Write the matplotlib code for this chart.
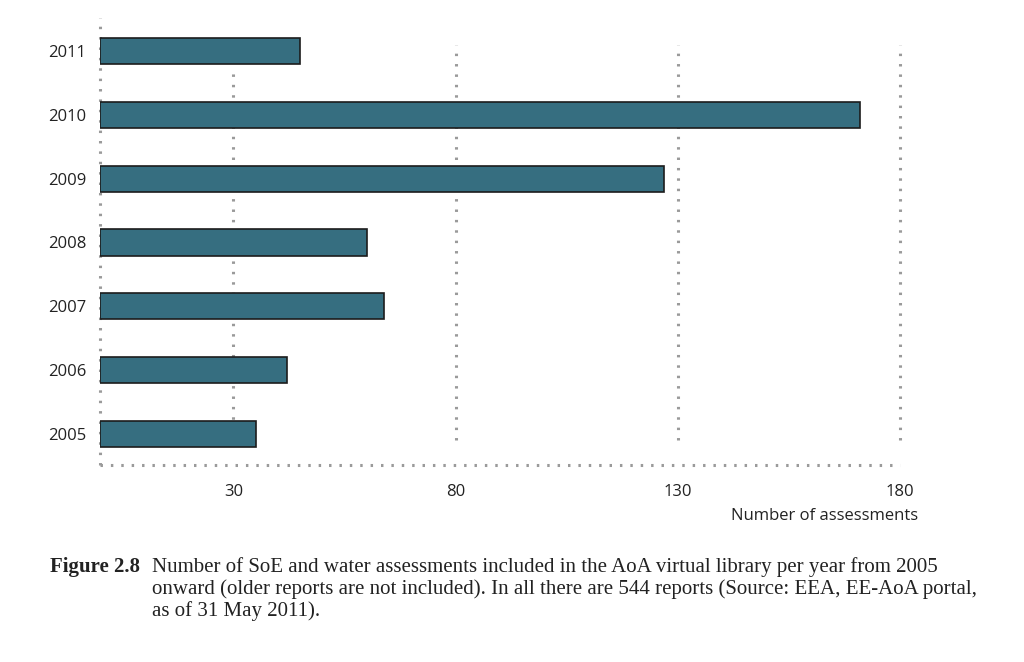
import matplotlib
matplotlib.use("Agg")
import matplotlib.pyplot as plt

years = ["2005", "2006", "2007", "2008", "2009", "2010", "2011"]
counts = [35, 42, 64, 60, 127, 171, 45]
xticks = [30, 80, 130, 180]

BAR_COLOR = "#366e80"
GRID_COLOR = "#9a9a9a"
DOTS = (0, (0.8, 2.6))

fig = plt.figure(figsize=(10.24, 6.62), dpi=100)
ax = fig.add_axes([100 / 1024, 1 - 465 / 662, 800 / 1024, 447 / 662])

y = list(range(len(years)))
ax.barh(y, counts, height=0.41, color=BAR_COLOR, edgecolor="#1c1c1c",
        linewidth=1.2, zorder=3)

ax.set_xlim(0, 180)
ax.set_ylim(-0.49, 6.52)

# dotted grid lines, stopping short of the axes edges like the original
for xv in xticks:
    top = 0.88 if xv == 30 else 0.94
    ax.axvline(xv, ymin=0.055, ymax=top, color=GRID_COLOR, linestyle=DOTS,
               linewidth=2.2, zorder=1, clip_on=False)

for side in ["top", "right"]:
    ax.spines[side].set_visible(False)
for side in ["left", "bottom"]:
    ax.spines[side].set_linestyle(DOTS)
    ax.spines[side].set_color(GRID_COLOR)
    ax.spines[side].set_linewidth(2.2)
    ax.spines[side].set_capstyle("butt")

ax.set_yticks(y)
ax.set_yticklabels(years, fontsize=12, family="Open Sans", color="#222222")
ax.set_xticks(xticks)
ax.set_xticklabels([str(v) for v in xticks], fontsize=12, family="Open Sans",
                   color="#222222")
ax.tick_params(axis="both", length=0)
ax.tick_params(axis="x", pad=14)
ax.tick_params(axis="y", pad=10)

fig.text(918 / 1024, 1 - 516 / 662, "Number of assessments", ha="right", va="center",
         fontsize=12, family="Open Sans", color="#222222")

# caption
cap_y = [567, 589, 611]
fig.text(50 / 1024, 1 - cap_y[0] / 662, "Figure 2.8", ha="left", va="center",
         fontsize=15, family="Liberation Serif", fontweight="bold", color="#222222")
lines = [
    "Number of SoE and water assessments included in the AoA virtual library per year from 2005",
    "onward (older reports are not included). In all there are 544 reports (Source: EEA, EE-AoA portal,",
    "as of 31 May 2011).",
]
for ly, txt in zip(cap_y, lines):
    fig.text(152 / 1024, 1 - ly / 662, txt, ha="left", va="center", fontsize=15,
             family="Liberation Serif", color="#222222")

fig.savefig("out.png", dpi=100)
